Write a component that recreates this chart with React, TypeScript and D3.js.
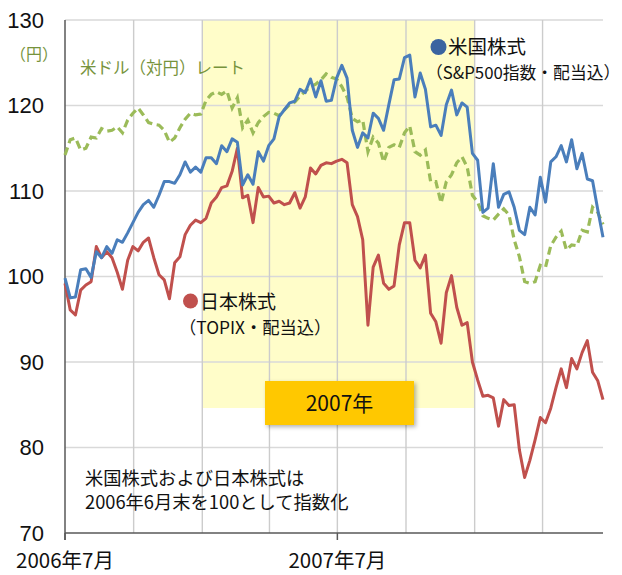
import React from "react";
import * as d3 from "d3";

// Weekly observations starting 2006-07-01
const startDate = "2006-07-01";

const usStocks = [
  99.8, 97.5, 97.6, 100.8, 100.9, 99.9, 102.9, 102.2, 103.5, 102.7,
  104.3, 104.0, 105.1, 106.3, 107.5, 108.4, 108.9, 108.1, 109.5, 111.1,
  111.1, 110.9, 111.9, 113.4, 112.2, 112.8, 112.2, 113.9, 113.9, 113.2,
  115.3, 114.6, 116.1, 115.7, 110.7, 111.9, 110.8, 114.6, 113.5, 115.3,
  116.1, 118.7, 119.5, 120.3, 120.5, 121.9, 121.5, 123.1, 121.0, 122.9,
  120.5, 120.6, 123.2, 124.7, 123.2, 117.1, 115.1, 116.8, 116.2, 119.1,
  118.5, 117.1, 120.1, 123.0, 123.1, 125.6, 125.9, 121.0, 123.8, 121.9,
  117.5, 117.7, 116.5, 120.1, 121.8, 118.9, 120.3, 119.8, 114.4, 113.6,
  107.5, 108.0, 113.2, 108.1, 109.6, 109.9, 108.1, 105.4, 104.9, 108.1,
  107.2, 111.6, 108.7, 113.4, 114.0, 115.3, 113.4, 116.0, 112.6, 114.4,
  111.4, 111.2, 107.8, 104.6,
];

const jpStocks = [
  99.2, 96.1, 95.5, 98.4, 99.0, 99.4, 103.5, 102.2, 102.9, 102.2,
  100.5, 98.5, 101.9, 103.5, 103.0, 104.0, 104.5, 102.2, 100.2, 99.6,
  97.4, 101.6, 102.3, 104.9, 106.0, 106.6, 106.3, 106.8, 108.6, 109.3,
  110.4, 110.6, 112.3, 115.0, 109.2, 109.5, 106.3, 110.4, 109.3, 109.4,
  108.6, 108.8, 108.4, 108.6, 109.8, 108.0, 109.3, 112.7, 112.0, 113.0,
  113.3, 113.2, 113.5, 113.7, 113.3, 108.4, 107.0, 104.3, 94.3, 101.1,
  102.5, 99.2, 98.5, 98.9, 103.7, 106.3, 106.3, 101.9, 101.0, 102.5,
  95.7, 94.7, 92.2, 98.1, 100.1, 96.4, 94.3, 94.6, 90.0, 87.9,
  86.0, 86.1, 85.8, 82.5, 85.6, 84.9, 85.0, 79.7, 76.5, 78.5,
  80.9, 83.5, 82.9, 84.6, 87.0, 89.2, 87.0, 90.4, 89.2, 91.1,
  92.5, 88.8, 87.8, 85.6,
];

const usdJpy = [
  114.2, 116.0, 116.2, 114.8, 115.0, 116.3, 116.2, 117.3, 117.0, 117.1,
  117.5, 116.8, 118.3, 119.1, 119.7, 118.9, 118.0, 117.8, 117.7, 117.1,
  115.7, 116.2, 117.4, 118.4, 119.1, 118.9, 119.0, 120.6, 121.3, 121.6,
  121.3, 121.7, 119.7, 120.9, 117.4, 118.3, 116.8, 118.0, 118.7, 119.2,
  119.1, 118.8, 119.5, 120.1, 120.4, 121.1, 121.7, 122.2, 122.5, 123.0,
  123.7, 123.3, 123.1, 122.2, 121.0, 118.5, 118.1, 118.3, 114.6, 116.3,
  115.6, 113.4, 115.1, 115.4, 115.1, 116.8, 117.6, 114.6, 114.2, 114.8,
  111.1, 111.1, 108.6, 111.1, 111.9, 113.3, 114.0, 112.8, 109.5, 108.7,
  107.1, 106.8, 106.6, 107.3, 107.9, 107.2, 104.3, 102.3, 99.4, 99.2,
  99.4, 101.3, 101.1, 103.6, 104.6, 105.3, 103.1, 103.7, 103.6, 105.4,
  105.2, 108.1, 107.5, 106.1,
];

const yTicks = [70, 80, 90, 100, 110, 120, 130];
const gridDates = ["2006-10-01", "2007-01-01", "2007-04-01", "2007-07-01", "2007-10-01", "2008-01-01", "2008-04-01"];
const xLabelDates = ["2006-07-01", "2007-07-01"];
const xLabelTexts = ["2006年7月", "2007年7月"];
const highlightRange = ["2007-01-01", "2008-01-01"];
const highlightLabel = "2007年";

const parse = d3.timeParse("%Y-%m-%d");
const t0 = parse(startDate) as Date;
const dates = usStocks.map((_, i) => d3.timeDay.offset(t0, i * 7));

const NUM = "'Liberation Sans', Arial, 'Noto Sans CJK JP', sans-serif";
const JP = "'Noto Sans CJK JP', 'Liberation Sans', sans-serif";

export default function App() {
  const W = 622, H = 575;
  const left = 65, right = 603, top = 20, bottom = 533;
  const x = d3.scaleTime().domain([dates[0], dates[dates.length - 1]]).range([left, right]);
  const y = d3.scaleLinear().domain([70, 130]).range([bottom, top]);
  const line = (vals: number[]) =>
    d3.line<number>().x((_, i) => x(dates[i])).y((d) => y(d)).curve(d3.curveLinear)(vals) || "";

  const hx0 = x(parse(highlightRange[0]) as Date);
  const hx1 = x(parse(highlightRange[1]) as Date);

  return (
    <svg width={W} height={H} style={{ position: "absolute", left: 0, top: 0, background: "#fff" }}>
      <defs>
        <filter id="sh" x="-10%" y="-10%" width="130%" height="140%">
          <feDropShadow dx="2" dy="2" stdDeviation="2" floodColor="#000" floodOpacity="0.3" />
        </filter>
      </defs>
      <rect x={0} y={0} width={W} height={H} fill="#fff" />
      {/* highlight band */}
      <rect x={hx0} y={top} width={hx1 - hx0} height={408 - top} fill="#fffdc9" />
      {/* gridlines */}
      {yTicks.filter((t) => t > 70).map((t) => (
        <line key={"h" + t} x1={left} x2={right} y1={y(t)} y2={y(t)} stroke="#d9d9d9" strokeWidth={1.6} />
      ))}
      {gridDates.map((d) => {
        const xx = x(parse(d) as Date);
        return <line key={"v" + d} x1={xx} x2={xx} y1={top} y2={bottom} stroke="#cccccc" strokeWidth={1.4} />;
      })}
      {/* axes */}
      <line x1={left} x2={left} y1={top} y2={540} stroke="#595959" strokeWidth={1.5} />
      <line x1={left} x2={right} y1={bottom} y2={bottom} stroke="#595959" strokeWidth={1.5} />
      {xLabelDates.map((d) => {
        const xx = x(parse(d) as Date);
        return <line key={"t" + d} x1={xx} x2={xx} y1={bottom} y2={540} stroke="#595959" strokeWidth={1.5} />;
      })}
      {/* y labels */}
      {yTicks.map((t) => (
        <text key={"yl" + t} x={44} y={y(t)} dy="0.36em" textAnchor="end" fontFamily={NUM} fontSize={22} fill="#111">
          {t}
        </text>
      ))}
      {xLabelDates.map((d, i) => (
        <text key={"xl" + d} x={x(parse(d) as Date)} y={561} dy="0.36em" textAnchor="middle" fontFamily={JP} fontSize={20.5} fill="#111">
          {xLabelTexts[i]}
        </text>
      ))}
      {/* series */}
      <path d={line(usdJpy)} fill="none" stroke="#9bbb59" strokeWidth={3.2} strokeDasharray="8 4.5" />
      <path d={line(jpStocks)} fill="none" stroke="#c0504d" strokeWidth={3} strokeLinejoin="round" />
      <path d={line(usStocks)} fill="none" stroke="#4a7ebb" strokeWidth={3} strokeLinejoin="round" />
      {/* 2007 box */}
      <rect x={265} y={381} width={149} height={44} fill="#ffc800" filter="url(#sh)" />
      <text x={339.5} y={403} dy="0.36em" textAnchor="middle" fontFamily={JP} fontSize={21} fill="#111">
        {highlightLabel}
      </text>
      {/* labels */}
      <text x={10} y={54} dy="0.36em" fontFamily={JP} fontSize={16} fill="#77933c">（円）</text>
      <text x={80} y={68} dy="0.36em" fontFamily={JP} fontSize={16.5} fill="#77933c">米ドル（対円）レート</text>
      <circle cx={438.5} cy={47} r={8} fill="#3a64a0" />
      <text x={448} y={47} dy="0.36em" fontFamily={JP} fontSize={19.5} fill="#111">米国株式</text>
      <text x={426} y={73} dy="0.36em" fontFamily={JP} fontSize={16.8} fill="#111">（S&amp;P500指数・配当込）</text>
      <circle cx={190.5} cy={301} r={7.5} fill="#c0504d" />
      <text x={200} y={302} dy="0.36em" fontFamily={JP} fontSize={19} fill="#111">日本株式</text>
      <text x={179} y={328} dy="0.36em" fontFamily={JP} fontSize={17.3} fill="#111">（TOPIX・配当込）</text>
      <text x={85} y={478} dy="0.36em" fontFamily={JP} fontSize={18.3} fill="#111">米国株式および日本株式は</text>
      <text x={85} y={502} dy="0.36em" fontFamily={JP} fontSize={18.3} fill="#111">2006年6月末を100として指数化</text>
    </svg>
  );
}
